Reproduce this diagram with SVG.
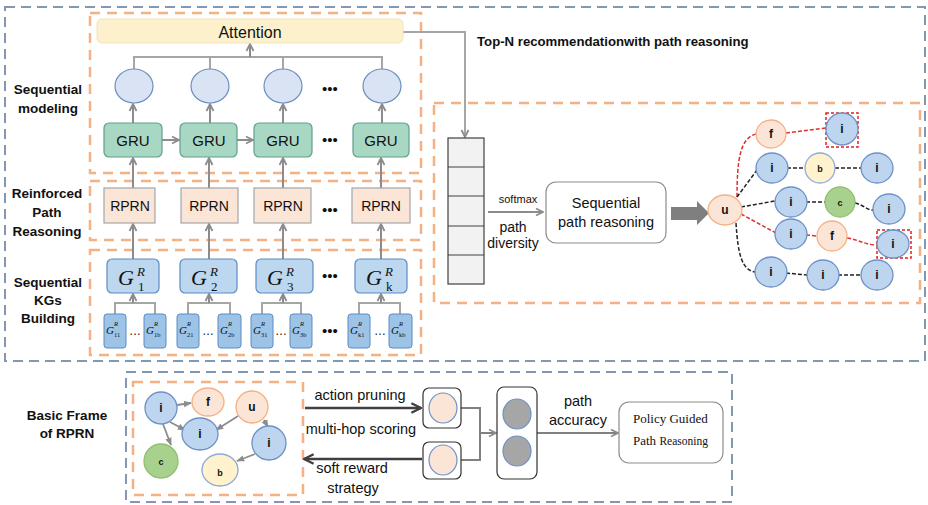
<svg xmlns="http://www.w3.org/2000/svg" width="928" height="505" viewBox="0 0 928 505">
<style>
.bd{fill:none;stroke:#8497b0;stroke-width:2;stroke-dasharray:10,6}
.od{fill:none;stroke:#f4b183;stroke-width:2.5;stroke-dasharray:10,7}
.lbl{font-family:"Liberation Sans",Arial,sans-serif;font-weight:bold;font-size:13.5px;fill:#111;text-anchor:middle}
.t{font-family:"Liberation Sans",Arial,sans-serif;fill:#111;text-anchor:middle}
.circ{fill:#dae3f3;stroke:#6c8ebf;stroke-width:1.2}
.gru{fill:#a8d8c4;stroke:#5fa08a;stroke-width:1.2}
.rprn{fill:#fbe5d6;stroke:#a6a6a6;stroke-width:1.2}
.gb{fill:#bdd7ee;stroke:#5b8cc6;stroke-width:1.2}
.gs{fill:#9dc3e6;stroke:#5b8cc6;stroke-width:1}
.g{font-family:"Liberation Serif","Times New Roman",serif;font-style:italic;fill:#111}
.gn{font-family:"Liberation Serif","Times New Roman",serif;fill:#111}
.ni{fill:#bdd5ee;stroke:#6d91c6;stroke-width:1.3}
.no{fill:#fbe5d6;stroke:#f4b183;stroke-width:1.3}
.nb{fill:#fff2cc;stroke:#8eaadb;stroke-width:1.3}
.nc{fill:#a9d18e;stroke:#8fbf70;stroke-width:1.3}
.nt{font-family:"Liberation Sans",Arial,sans-serif;font-weight:bold;font-size:12px;fill:#111;text-anchor:middle}
.ns{font-family:"Liberation Sans",Arial,sans-serif;font-weight:bold;font-size:9px;fill:#111;text-anchor:middle}
.ga{fill:none;stroke:#8c8c8c;stroke-width:2;marker-end:url(#ag)}
.rd{fill:none;stroke:#e03030;stroke-width:1.5;stroke-dasharray:4,2}
.kd{fill:none;stroke:#222;stroke-width:1.5;stroke-dasharray:4,2}
.dots{font-family:"Liberation Sans",Arial,sans-serif;font-size:15px;fill:#111;text-anchor:middle}
</style>
<defs>
<marker id="ag" viewBox="0 0 10 10" refX="9" refY="5" markerWidth="10" markerHeight="10" orient="auto" markerUnits="userSpaceOnUse">
<path d="M2,1.5 L9,5 L2,8.5" fill="none" stroke="#8c8c8c" stroke-width="1.8"/>
</marker>
<marker id="agf" viewBox="0 0 10 10" refX="9" refY="5" markerWidth="8" markerHeight="8" orient="auto" markerUnits="userSpaceOnUse">
<path d="M0,1 L10,5 L0,9 Z" fill="#8c8c8c"/>
</marker>
<marker id="adk" viewBox="0 0 10 10" refX="9" refY="5" markerWidth="12" markerHeight="12" orient="auto" markerUnits="userSpaceOnUse">
<path d="M1,1 L9,5 L1,9" fill="none" stroke="#404040" stroke-width="2"/>
</marker>
</defs>
<rect width="928" height="505" fill="#fff"/>

<!-- frames -->
<g id="frames">
<rect class="bd" x="5" y="7" width="920" height="354"/>
<rect class="bd" x="126" y="372" width="606" height="130"/>
<rect class="od" x="90" y="13" width="331" height="160"/>
<rect class="od" x="90" y="181" width="331" height="59"/>
<rect class="od" x="90" y="250" width="331" height="105"/>
<rect class="od" x="434" y="103" width="486" height="200"/>
<rect class="od" x="133" y="382" width="170" height="113"/>
</g>

<g id="labels">
<text class="lbl" x="48" y="94">Sequential</text>
<text class="lbl" x="48" y="113">modeling</text>
<text class="lbl" x="47" y="198">Reinforced</text>
<text class="lbl" x="47" y="217">Path</text>
<text class="lbl" x="47" y="236">Reasoning</text>
<text class="lbl" x="48" y="287">Sequential</text>
<text class="lbl" x="48" y="305">KGs</text>
<text class="lbl" x="48" y="323">Building</text>
<text class="lbl" x="67" y="420">Basic Frame</text>
<text class="lbl" x="67" y="438">of RPRN</text>
<text class="lbl" x="477" y="46" style="text-anchor:start;font-size:13.2px">Top-N recommendationwith path reasoning</text>
</g>

<!-- connectors -->
<g id="connectors">
<path d="M403,32 H465 V137" fill="none" stroke="#a6a6a6" stroke-width="2" marker-end="url(#ag)"/>
<path d="M134,69 V57 H382 V69 M210,57 V69 M283,57 V69" fill="none" stroke="#a6a6a6" stroke-width="2"/>
<path class="ga" d="M250,57 V44"/>
<path class="ga" d="M133,123 V104"/>
<path class="ga" d="M210,123 V104"/>
<path class="ga" d="M283,123 V104"/>
<path class="ga" d="M382,123 V104"/>
<path class="ga" d="M162,140 H179"/>
<path class="ga" d="M237,140 H253"/>
<path class="ga" d="M133,188 V158"/>
<path class="ga" d="M209,188 V158"/>
<path class="ga" d="M283,188 V158"/>
<path class="ga" d="M381,188 V158"/>
<path class="ga" d="M133,259 V224"/>
<path class="ga" d="M209,259 V224"/>
<path class="ga" d="M283,259 V224"/>
<path class="ga" d="M381,259 V224"/>
<path d="M115,314 V303 H155 V314 M188,314 V303 H230 V314 M262,314 V303 H301 V314 M359,314 V303 H400 V314" fill="none" stroke="#a6a6a6" stroke-width="2"/>
<path class="ga" d="M133,303 V294"/>
<path class="ga" d="M209,303 V294"/>
<path class="ga" d="M283,303 V294"/>
<path class="ga" d="M381,303 V294"/>
<path class="ga" d="M488,212 H543"/>
<polygon points="671,207 697,207 697,201 709,213 697,225 697,220 671,220" fill="#7f7f7f"/>
<!-- right graph edges -->
<path class="rd" d="M737,197 C737,160 740,138 756,134"/>
<path class="rd" d="M786,133 L826,128"/>
<path class="rd" d="M741,214 L776,233"/>
<path class="rd" d="M806,235 L817,236"/>
<path class="rd" d="M847,238 C860,240 865,245 877,245"/>
<path class="kd" d="M737,197 L757,170"/>
<path class="kd" d="M787,168 L805,168"/>
<path class="kd" d="M835,168 L861,168"/>
<path class="kd" d="M741,207 L775,201"/>
<path class="kd" d="M806,202 L825,202"/>
<path class="kd" d="M855,203 C864,205 866,210 873,210"/>
<path class="kd" d="M736,223 C738,255 742,270 755,272"/>
<path class="kd" d="M786,273 L807,275"/>
<path class="kd" d="M838,275 L861,275"/>
<!-- bottom -->
<path d="M177,405 L191,403" fill="none" stroke="#8c8c8c" stroke-width="1.8" marker-end="url(#agf)"/>
<path d="M170,422 L185,430" fill="none" stroke="#8c8c8c" stroke-width="1.8" marker-end="url(#agf)"/>
<path d="M163,424 L171,445" fill="none" stroke="#8c8c8c" stroke-width="1.8" marker-end="url(#agf)"/>
<path d="M238,416 L216,430" fill="none" stroke="#8c8c8c" stroke-width="1.8" marker-end="url(#agf)"/>
<path d="M264,420 L268,427" fill="none" stroke="#8c8c8c" stroke-width="1.8" marker-end="url(#agf)"/>
<path d="M255,454 L237,461" fill="none" stroke="#8c8c8c" stroke-width="1.8" marker-end="url(#agf)"/>
<path d="M305,408 H421" fill="none" stroke="#404040" stroke-width="2.5" marker-end="url(#adk)"/>
<path d="M422,459 H304" fill="none" stroke="#404040" stroke-width="2.5" marker-end="url(#adk)"/>
<path d="M461,408 H480 V460 H461" fill="none" stroke="#808080" stroke-width="2"/>
<path d="M480,433 H496" fill="none" stroke="#808080" stroke-width="2" marker-end="url(#ag)"/>
<path d="M537,433 H618" fill="none" stroke="#808080" stroke-width="2" marker-end="url(#ag)"/>
</g>

<g id="attention">
<rect x="97" y="19" width="306" height="24" rx="5" fill="#fdf1cd" stroke="#f2e3b8"/>
<text class="t" x="250" y="38" font-size="16">Attention</text>
</g>

<g id="hidden-states">
<ellipse class="circ" cx="134" cy="86" rx="19" ry="17"/>
<ellipse class="circ" cx="210" cy="86" rx="19" ry="17"/>
<ellipse class="circ" cx="283" cy="86" rx="19" ry="17"/>
<ellipse class="circ" cx="382" cy="86" rx="19" ry="17"/>
<text class="dots" x="330" y="94">•••</text>
</g>

<g id="gru">
<rect class="gru" x="104" y="123" width="58" height="34" rx="5"/>
<rect class="gru" x="180" y="123" width="57" height="34" rx="5"/>
<rect class="gru" x="254" y="123" width="58" height="34" rx="5"/>
<rect class="gru" x="353" y="123" width="56" height="34" rx="5"/>
<text class="t" x="133" y="146" font-size="15">GRU</text>
<text class="t" x="209" y="146" font-size="15">GRU</text>
<text class="t" x="283" y="146" font-size="15">GRU</text>
<text class="t" x="381" y="146" font-size="15">GRU</text>
<text class="dots" x="330" y="145">•••</text>
</g>

<g id="rprn">
<rect class="rprn" x="104" y="188" width="51" height="35"/>
<rect class="rprn" x="181" y="188" width="57" height="35"/>
<rect class="rprn" x="254" y="188" width="57" height="35"/>
<rect class="rprn" x="352" y="188" width="58" height="35"/>
<text class="t" x="130" y="211" font-size="14">RPRN</text>
<text class="t" x="209" y="211" font-size="14">RPRN</text>
<text class="t" x="283" y="211" font-size="14">RPRN</text>
<text class="t" x="381" y="211" font-size="14">RPRN</text>
<text class="dots" x="330" y="215">•••</text>
</g>

<g id="kg-big">
<rect class="gb" x="107" y="259" width="52" height="34" rx="5"/>
<rect class="gb" x="180" y="259" width="57" height="34" rx="5"/>
<rect class="gb" x="256" y="259" width="57" height="34" rx="5"/>
<rect class="gb" x="355" y="259" width="52" height="34" rx="5"/>
<text class="g" font-size="22"><tspan x="118" y="285">G</tspan><tspan x="137" y="276" font-size="13">R</tspan></text>
<text class="gn" x="138" y="291" font-size="13">1</text>
<text class="g" font-size="22"><tspan x="191" y="285">G</tspan><tspan x="210" y="276" font-size="13">R</tspan></text>
<text class="gn" x="211" y="291" font-size="13">2</text>
<text class="g" font-size="22"><tspan x="267" y="285">G</tspan><tspan x="286" y="276" font-size="13">R</tspan></text>
<text class="gn" x="287" y="291" font-size="13">3</text>
<text class="g" font-size="22"><tspan x="366" y="285">G</tspan><tspan x="385" y="276" font-size="13">R</tspan></text>
<text class="gn" x="386" y="291" font-size="13">k</text>
<text class="dots" x="330" y="281">•••</text>
</g>

<g id="kg-small">
<rect class="gs" x="104" y="314" width="22" height="34" rx="3"/>
<rect class="gs" x="144" y="314" width="22" height="34" rx="3"/>
<rect class="gs" x="177" y="314" width="22" height="34" rx="3"/>
<rect class="gs" x="218" y="314" width="23" height="34" rx="3"/>
<rect class="gs" x="251" y="314" width="22" height="34" rx="3"/>
<rect class="gs" x="290" y="314" width="22" height="34" rx="3"/>
<rect class="gs" x="348" y="314" width="22" height="34" rx="3"/>
<rect class="gs" x="389" y="314" width="23" height="34" rx="3"/>
<g class="g" font-size="11">
<text x="106" y="334">G</text><text x="146" y="334">G</text>
<text x="179" y="334">G</text><text x="220" y="334">G</text>
<text x="253" y="334">G</text><text x="292" y="334">G</text>
<text x="350" y="334">G</text><text x="391" y="334">G</text>
</g>
<g class="g" font-size="6.5">
<text x="114" y="326">R</text><text x="154" y="326">R</text>
<text x="187" y="326">R</text><text x="228" y="326">R</text>
<text x="261" y="326">R</text><text x="300" y="326">R</text>
<text x="358" y="326">R</text><text x="399" y="326">R</text>
</g>
<g class="gn" font-size="6.5">
<text x="114" y="337">11</text><text x="154" y="337">1b</text>
<text x="187" y="337">21</text><text x="228" y="337">2b</text>
<text x="261" y="337">31</text><text x="300" y="337">3b</text>
<text x="358" y="337">k1</text><text x="399" y="337">kb</text>
</g>
<g class="t" font-size="12">
<text x="135" y="335">…</text><text x="208" y="335">…</text>
<text x="281" y="335">…</text><text x="380" y="335">…</text>
</g>
<text class="dots" x="330" y="336">•••</text>
</g>

<g id="stack">
<rect x="448" y="138" width="36" height="146" fill="#f2f2f2" stroke="#404040" stroke-width="1.2"/>
<path d="M448,167 H484 M448,196 H484 M448,226 H484 M448,255 H484" stroke="#404040" stroke-width="1.2"/>
<text class="t" x="518" y="203" font-size="11">softmax</text>
<text class="t" x="513" y="232" font-size="14">path</text>
<text class="t" x="513" y="248" font-size="14">diversity</text>
</g>

<g id="seq-path">
<rect x="546" y="182" width="120" height="61" rx="10" fill="#fff" stroke="#8c8c8c" stroke-width="1.2"/>
<text class="t" x="606" y="208" font-size="14.5">Sequential</text>
<text class="t" x="606" y="227" font-size="14.5">path reasoning</text>
</g>

<g id="paths-graph">
<rect x="826" y="113" width="32" height="34" fill="none" stroke="#e02020" stroke-width="1.5" stroke-dasharray="3,2"/>
<rect x="877" y="230" width="34" height="28" fill="none" stroke="#e02020" stroke-width="1.5" stroke-dasharray="3,2"/>
<g id="n-u"><ellipse class="no" cx="725" cy="210" rx="17" ry="15"/><text class="nt" x="725" y="214">u</text></g>
<g id="n-f1"><ellipse class="no" cx="771" cy="134" rx="15" ry="14"/><text class="nt" x="771" y="138">f</text></g>
<g id="n-i1"><ellipse class="ni" cx="842" cy="129" rx="16" ry="16"/><text class="nt" x="842" y="133">i</text></g>
<g id="n-i2"><ellipse class="ni" cx="772" cy="168" rx="16" ry="15"/><text class="nt" x="772" y="172">i</text></g>
<g id="n-b"><ellipse class="nb" cx="820" cy="168" rx="15" ry="15"/><text class="ns" x="820" y="172">b</text></g>
<g id="n-i3"><ellipse class="ni" cx="877" cy="168" rx="16" ry="15"/><text class="nt" x="877" y="172">i</text></g>
<g id="n-i4"><ellipse class="ni" cx="791" cy="202" rx="16" ry="15"/><text class="nt" x="791" y="206">i</text></g>
<g id="n-c"><ellipse class="nc" cx="840" cy="202" rx="15" ry="15"/><text class="ns" x="840" y="206">c</text></g>
<g id="n-i5"><ellipse class="ni" cx="889" cy="209" rx="16" ry="15"/><text class="nt" x="889" y="213">i</text></g>
<g id="n-i6"><ellipse class="ni" cx="791" cy="234" rx="16" ry="15"/><text class="nt" x="791" y="238">i</text></g>
<g id="n-f2"><ellipse class="no" cx="832" cy="236" rx="15" ry="15"/><text class="nt" x="832" y="240">f</text></g>
<g id="n-i7"><ellipse class="ni" cx="893" cy="244" rx="16" ry="14"/><text class="nt" x="893" y="248">i</text></g>
<g id="n-i8"><ellipse class="ni" cx="771" cy="272" rx="16" ry="15"/><text class="nt" x="771" y="276">i</text></g>
<g id="n-i9"><ellipse class="ni" cx="823" cy="275" rx="16" ry="15"/><text class="nt" x="823" y="279">i</text></g>
<g id="n-i10"><ellipse class="ni" cx="877" cy="275" rx="16" ry="15"/><text class="nt" x="877" y="279">i</text></g>
</g>

<g id="basic-graph">
<g id="b-i1"><ellipse class="ni" cx="161" cy="408" rx="16" ry="16"/><text class="nt" x="161" y="412">i</text></g>
<g id="b-f"><ellipse class="no" cx="208" cy="402" rx="16" ry="14"/><text class="nt" x="208" y="406">f</text></g>
<g id="b-u"><ellipse class="no" cx="252" cy="407" rx="16" ry="16"/><text class="nt" x="252" y="411">u</text></g>
<g id="b-i2"><ellipse class="ni" cx="200" cy="434" rx="18" ry="16"/><text class="nt" x="200" y="438">i</text></g>
<g id="b-i3"><ellipse class="ni" cx="269" cy="443" rx="17" ry="17"/><text class="nt" x="269" y="447">i</text></g>
<g id="b-c"><ellipse class="nc" cx="161" cy="461" rx="17" ry="17"/><text class="ns" x="161" y="465">c</text></g>
<g id="b-b"><ellipse class="nb" cx="220" cy="470" rx="18" ry="16"/><text class="ns" x="220" y="476">b</text></g>
</g>

<g id="bottom-labels">
<text class="t" x="360" y="400" font-size="14.5">action pruning</text>
<text class="t" x="361" y="434" font-size="14.5">multi-hop scoring</text>
<text class="t" x="352" y="473" font-size="14.5">soft reward</text>
<text class="t" x="353" y="493" font-size="14.5">strategy</text>
<text class="t" x="578" y="406" font-size="14.5">path</text>
<text class="t" x="578" y="425" font-size="14.5">accuracy</text>
</g>

<g id="box-a">
<rect x="423" y="388" width="38" height="40" rx="6" fill="#fff" stroke="#333" stroke-width="1.2"/>
<ellipse cx="443" cy="408" rx="14" ry="15" fill="#fbe5d6" stroke="#6d91c6" stroke-width="1.2"/>
</g>
<g id="box-b">
<rect x="423" y="442" width="38" height="37" rx="6" fill="#fff" stroke="#333" stroke-width="1.2"/>
<ellipse cx="443" cy="460" rx="14" ry="15" fill="#fbe5d6" stroke="#6d91c6" stroke-width="1.2"/>
</g>
<g id="box-c">
<rect x="497" y="387" width="40" height="92" rx="7" fill="#fff" stroke="#333" stroke-width="1.2"/>
<ellipse cx="517" cy="414" rx="14" ry="15" fill="#a6a6a6" stroke="#6d91c6" stroke-width="1.2"/>
<ellipse cx="517" cy="451" rx="14" ry="15" fill="#a6a6a6" stroke="#6d91c6" stroke-width="1.2"/>
</g>
<g id="policy">
<rect x="619" y="402" width="104" height="61" rx="10" fill="#fff" stroke="#8c8c8c" stroke-width="1.2"/>
<text class="gn" x="633" y="423" font-size="13">Policy Guided</text>
<text class="gn" x="633" y="445" font-size="13">Path <tspan font-size="11.5">Reasoning</tspan></text>
</g>
</svg>
